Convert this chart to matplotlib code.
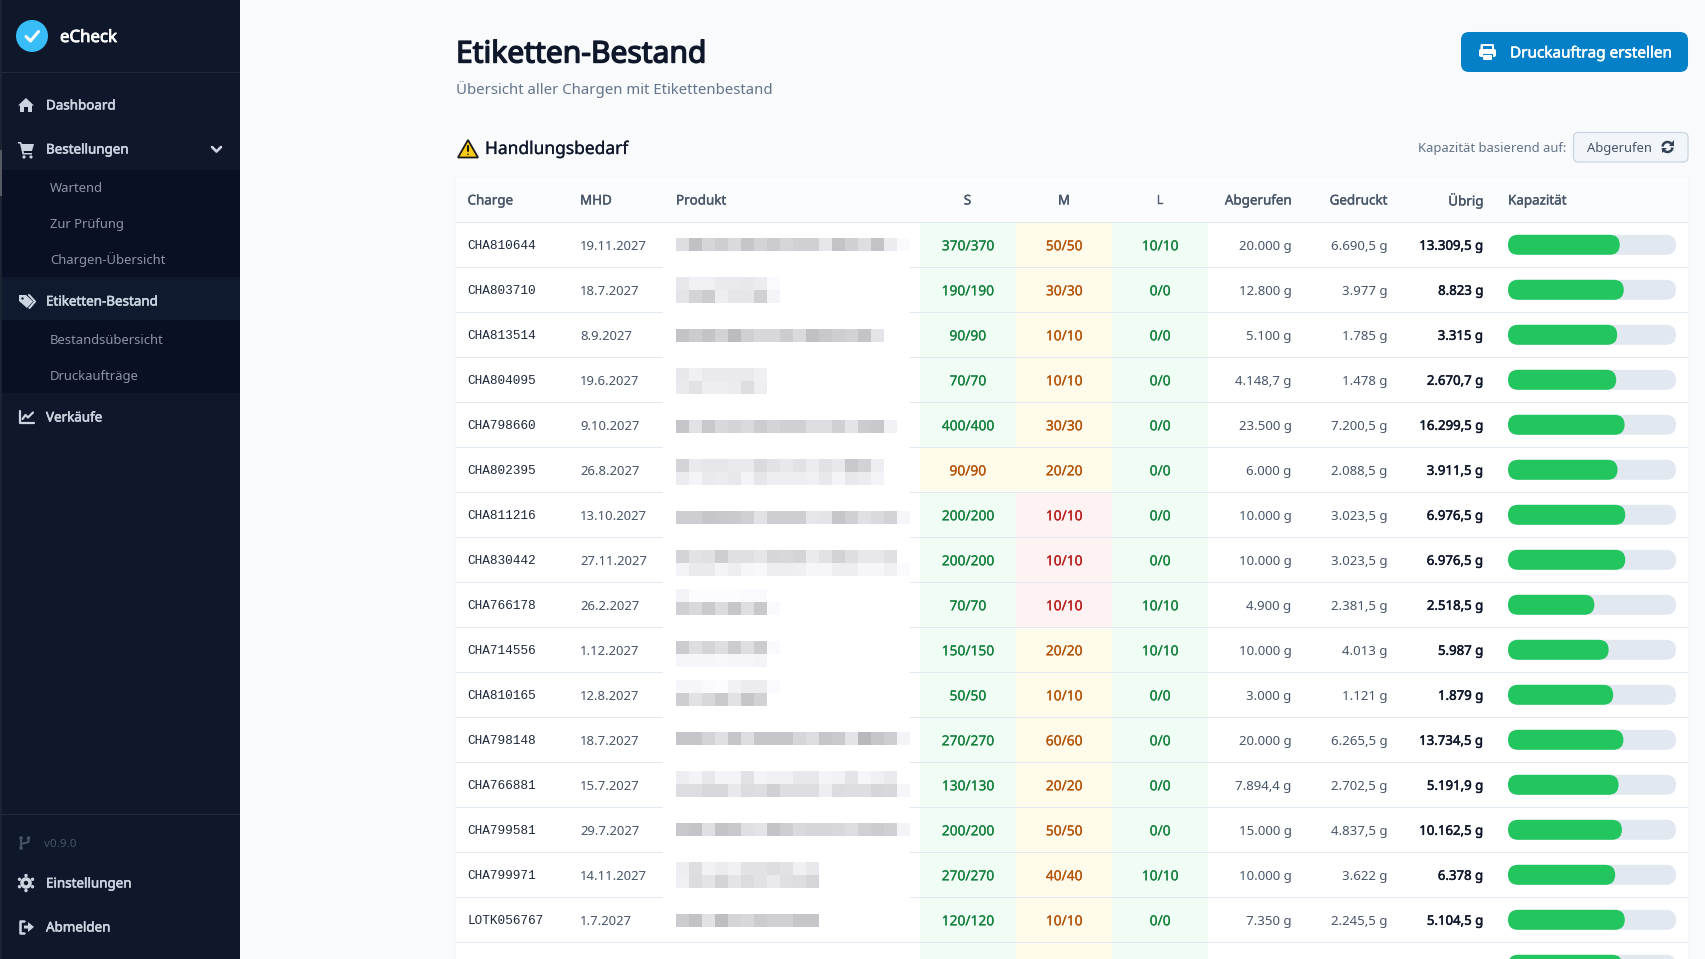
import matplotlib
matplotlib.use("Agg")
import matplotlib.pyplot as plt
import matplotlib.patheffects as pe
from matplotlib.patches import FancyBboxPatch, Rectangle, Polygon, Circle, Arc

# ===== data =====
charge = ["CHA810644", "CHA803710", "CHA813514", "CHA804095", "CHA798660", "CHA802395", "CHA811216", "CHA830442",
          "CHA766178", "CHA714556", "CHA810165", "CHA798148", "CHA766881", "CHA799581", "CHA799971", "LOTK056767"]
mhd = ["19.11.2027", "18.7.2027", "8.9.2027", "19.6.2027", "9.10.2027", "26.8.2027", "13.10.2027", "27.11.2027",
       "26.2.2027", "1.12.2027", "12.8.2027", "18.7.2027", "15.7.2027", "29.7.2027", "14.11.2027", "1.7.2027"]
size_s = ["370/370", "190/190", "90/90", "70/70", "400/400", "90/90", "200/200", "200/200",
          "70/70", "150/150", "50/50", "270/270", "130/130", "200/200", "270/270", "120/120"]
size_m = ["50/50", "30/30", "10/10", "10/10", "30/30", "20/20", "10/10", "10/10",
          "10/10", "20/20", "10/10", "60/60", "20/20", "50/50", "40/40", "10/10"]
size_l = ["10/10", "0/0", "0/0", "0/0", "0/0", "0/0", "0/0", "0/0",
          "10/10", "10/10", "0/0", "0/0", "0/0", "0/0", "10/10", "0/0"]
status_s = "ggggg" + "ygg" + "gggggggg"
status_m = "yyyyyy" + "rrr" + "yyyyyyy"
status_l = "g" * 16
abgerufen = ["20.000 g", "12.800 g", "5.100 g", "4.148,7 g", "23.500 g", "6.000 g", "10.000 g", "10.000 g",
             "4.900 g", "10.000 g", "3.000 g", "20.000 g", "7.894,4 g", "15.000 g", "10.000 g", "7.350 g"]
gedruckt = ["6.690,5 g", "3.977 g", "1.785 g", "1.478 g", "7.200,5 g", "2.088,5 g", "3.023,5 g", "3.023,5 g",
            "2.381,5 g", "4.013 g", "1.121 g", "6.265,5 g", "2.702,5 g", "4.837,5 g", "3.622 g", "2.245,5 g"]
uebrig = ["13.309,5 g", "8.823 g", "3.315 g", "2.670,7 g", "16.299,5 g", "3.911,5 g", "6.976,5 g", "6.976,5 g",
          "2.518,5 g", "5.987 g", "1.879 g", "13.734,5 g", "5.191,9 g", "10.162,5 g", "6.378 g", "5.104,5 g"]
kapazitaet = [66.5, 68.9, 65.0, 64.4, 69.4, 65.2, 69.8, 69.8, 51.4, 59.9, 62.6, 68.7, 65.8, 67.8, 63.8, 69.5, 68.0]

# pixelated product names, grey level per block
blur_tops = [238, 277, 290, 329, 368, 381, 420, 459, 472, 511, 550, 563, 589, 602, 641, 654, 680, 693, 732, 771, 784, 823, 862, 875, 914]
blur_levels = [
    [222, 193, 214, 206, 218, 198, 212, 204, 214, 208, 208, 230, 195, 208, 222, 195, 236, 250],
    [232, 240, 240, 234, 234, 232, 236, 250],
    [228, 212, 204, 238, 230, 230, 208, 244],
    [196, 204, 196, 210, 188, 208, 216, 216, 204, 218, 192, 200, 206, 210, 196, 228],
    [232, 240, 234, 234, 234, 234, 240],
    [234, 226, 238, 238, 236, 222, 238],
    [198, 226, 200, 216, 212, 218, 204, 212, 208, 208, 222, 222, 208, 228, 204, 200, 242],
    [212, 234, 230, 230, 234, 234, 218, 226, 232, 226, 236, 226, 232, 200, 210, 238],
    [236, 244, 234, 236, 232, 244, 230, 238, 238, 238, 240, 232, 244, 232, 236, 244],
    [206, 206, 198, 200, 202, 208, 226, 206, 206, 206, 230, 228, 198, 208, 224, 218, 210, 246],
    [212, 226, 224, 206, 224, 224, 230, 214, 216, 212, 234, 226, 210, 222, 232, 232, 224],
    [244, 234, 234, 244, 238, 246, 248, 238, 238, 240, 246, 246, 238, 238, 246, 246, 240, 250],
    [244, 252, 252, 252, 252, 250, 250],
    [208, 216, 202, 220, 198, 222, 200, 250],
    [204, 222, 212, 222, 204, 222, 204, 250],
    [246, 246, 246, 248, 246, 246, 244],
    [246, 246, 250, 252, 242, 236, 236, 250],
    [206, 226, 216, 202, 226, 198, 210],
    [198, 198, 212, 224, 198, 222, 198, 198, 198, 214, 222, 198, 202, 228, 184, 198, 206, 244],
    [238, 244, 232, 244, 244, 226, 244, 240, 240, 232, 232, 244, 242, 228, 246, 240, 234],
    [222, 222, 216, 216, 232, 220, 222, 208, 222, 222, 222, 238, 220, 222, 222, 214, 216, 246],
    [200, 196, 224, 196, 200, 224, 228, 196, 206, 218, 214, 214, 216, 222, 208, 204, 208, 244],
    [238, 222, 242, 236, 240, 226, 226, 222, 226, 240, 232],
    [240, 220, 228, 212, 228, 220, 226, 234, 224, 222, 214],
    [204, 194, 226, 190, 212, 216, 204, 208, 208, 198, 198],
]

# ===== colours =====
cell_bg = {"g": "#f0fdf4", "y": "#fffbeb", "r": "#fef2f2"}
cell_fg = {"g": "#15803d", "y": "#b45309", "r": "#b91c1c"}
SIDE = "#0f172a"
SUB = "#0a1023"
LINE = "#e2e8f0"
FONT = "Noto Sans"

plt.rcParams["font.family"] = [FONT, "DejaVu Sans"]

fig = plt.figure(figsize=(17.0501, 9.5901), dpi=100, facecolor="#f8fafc")
ax = fig.add_axes([0, 0, 1, 1])
ax.set_xlim(0, 1705)
ax.set_ylim(959, 0)
ax.axis("off")


def px(size):
    return size * 0.72


def txt(x, y, s, size=14, color="#475569", ha="left", heavy=0, family=None, z=6):
    # only the regular cut gets picked up, so heavier text gets a thin outline of its own colour
    t = ax.text(x, y, s, fontsize=px(size), color=color, ha=ha, va="center_baseline",
                family=family or [FONT, "DejaVu Sans"], zorder=z)
    if heavy:
        t.set_path_effects([pe.withStroke(linewidth=heavy, foreground=color)])


def rect(x0, y0, x1, y1, color, z=1):
    ax.add_patch(Rectangle((x0, y0), x1 - x0, y1 - y0, facecolor=color, edgecolor="none", zorder=z))


def rbox(x0, y0, x1, y1, r, color, edge="none", lw=0, z=2):
    ax.add_patch(FancyBboxPatch((x0, y0), x1 - x0, y1 - y0, boxstyle=f"round,pad=0,rounding_size={r}",
                                facecolor=color, edgecolor=edge, linewidth=lw, zorder=z))


def poly(pts, color, z=5, edge="none", lw=0):
    ax.add_patch(Polygon(pts, closed=True, facecolor=color, edgecolor=edge, linewidth=lw, zorder=z))


def stroke(xs, ys, color, lw=1.6, z=5):
    ax.plot(xs, ys, color=color, linewidth=lw, solid_capstyle="round", solid_joinstyle="round", zorder=z)


# ===== sidebar =====
rect(0, 0, 240, 959, SIDE)
rect(0, 0, 2, 959, "#1c2333", z=2)
rect(0, 150, 2, 196, "#555a63", z=2)
rect(2, 72, 240, 73, "#1e293b", z=2)
rect(2, 814, 240, 815, "#1e293b", z=2)
rect(2, 170, 240, 277, SUB, z=2)
rect(2, 277, 240, 320, "#101a2e", z=2)
rect(2, 320, 240, 393, SUB, z=2)

ax.add_patch(Circle((32, 36), 16, facecolor="#38bdf8", edgecolor="none", zorder=4))
stroke([26, 30.5, 38.5], [36.5, 41, 31.5], "white", lw=2.2)
txt(60, 36, "eCheck", 16.8, "#ffffff", heavy=0.6)

ICON = "#cbd5e1"
nav_main = [("Dashboard", 104.5), ("Bestellungen", 148.5), ("Etiketten-Bestand", 300.5), ("Verkäufe", 416.5),
            ("Einstellungen", 882.5), ("Abmelden", 926.5)]
nav_sub = [("Wartend", 186.5), ("Zur Prüfung", 222.5), ("Chargen-Übersicht", 258.5), ("Bestandsübersicht", 338.5), ("Druckaufträge", 374.5)]
for name, y in nav_main:
    txt(46, y, name, 13.4, ICON, heavy=0.4)
for name, y in nav_sub:
    txt(50, y, name, 13, "#8b95a7")
txt(44, 843, "v0.9.0", 11.6, "#475569")

for y in (149, 301):
    stroke([212, 216.5, 221], [147, 151.5, 147], ICON, lw=1.7)

# home
poly([(26, 98), (34, 105.5), (32, 105.5), (32, 112), (28, 112), (28, 107), (24, 107), (24, 112), (20, 112), (20, 105.5), (18, 105.5)], ICON)
# cart
poly([(18, 142), (21, 142), (22, 144), (34, 144), (32, 151), (23.5, 151), (24, 153), (32, 153), (32, 154.5), (22.5, 154.5), (20, 143.5), (18, 143.5)], ICON)
ax.add_patch(Circle((24, 157), 1.6, facecolor=ICON, zorder=5))
ax.add_patch(Circle((31, 157), 1.6, facecolor=ICON, zorder=5))
# tags
poly([(19, 295), (26, 295), (33, 301.5), (27, 308), (19, 301)], ICON)
stroke([29, 35, 29.5], [295, 301.5, 308], ICON, lw=1.5)
ax.add_patch(Circle((22.5, 298.5), 1.2, facecolor="#101a2e", zorder=6))
# chart
stroke([19.5, 19.5, 33.5], [411, 423, 423], ICON, lw=1.6)
stroke([22.5, 25.5, 28, 33], [419, 415, 417.5, 412.5], ICON, lw=1.6)
# branch
BR = "#475569"
for cx, cy in [(21, 838), (21, 848), (28.5, 838)]:
    ax.add_patch(Circle((cx, cy), 1.8, facecolor=BR, zorder=5))
stroke([21, 21], [838, 848], BR, lw=1.4)
stroke([28.5, 28.5, 21], [838, 842, 844], BR, lw=1.4)
# gear
ax.add_patch(Circle((26, 883), 5.8, facecolor=ICON, zorder=5))
ax.add_patch(Circle((26, 883), 2.2, facecolor=SIDE, zorder=6))
for a, b in [(0, 7.5), (0, -7.5), (6.5, 3.7), (-6.5, 3.7), (6.5, -3.7), (-6.5, -3.7)]:
    ax.add_patch(Circle((26 + a, 883 + b), 1.7, facecolor=ICON, zorder=5))
# logout
stroke([23.5, 20, 20, 23.5], [921, 921, 933, 933], ICON, lw=1.8)
poly([(24, 925.5), (28, 925.5), (28, 922), (34, 927), (28, 932), (28, 928.5), (24, 928.5)], ICON)

# ===== page header =====
txt(456, 51, "Etiketten-Bestand", 30, "#0f172a", heavy=1.0)
txt(456, 87.5, "Übersicht aller Chargen mit Etikettenbestand", 14.95, "#64748b")

rbox(1461, 32, 1688, 72, 8, "#0380c8")
txt(1510, 52, "Druckauftrag erstellen", 15.3, "#ffffff", heavy=0.35)
# printer
rbox(1480.5, 44, 1494, 50, 1.5, "white", z=5)
rect(1483, 46, 1491.5, 49, "#0380c8", z=6)
rbox(1479, 49, 1496, 57, 2, "white", z=5)
rect(1482.5, 54, 1492.5, 60, "#0380c8", z=6)
rbox(1483, 55, 1492, 60, 1, "white", z=7)

poly([(468, 140), (478, 157.5), (458, 157.5)], "#facc15", edge="#1a1a1a", lw=1.3)
stroke([468, 468], [146.5, 151.5], "#1a1a1a", lw=1.5)
ax.add_patch(Circle((468, 154.3), 0.8, facecolor="#1a1a1a", zorder=6))
txt(485, 147, "Handlungsbedarf", 17.4, "#0f172a", heavy=0.2)

txt(1566, 147, "Kapazität basierend auf:", 13, "#64748b", ha="right")
rbox(1573.5, 132.5, 1688, 162, 5, "#f1f5f9", edge="#cbd5e1", lw=0.9)
txt(1587, 147, "Abgerufen", 13, "#475569")
ax.add_patch(Arc((1667.5, 147), 10, 10, theta1=185, theta2=345, color="#334155", linewidth=1.8, zorder=6))
ax.add_patch(Arc((1667.5, 147), 10, 10, theta1=5, theta2=165, color="#334155", linewidth=1.8, zorder=6))
poly([(1673.5, 140.5), (1673.5, 146), (1668.5, 146)], "#334155", z=6)
poly([(1661.5, 153.5), (1661.5, 148), (1666.5, 148)], "#334155", z=6)

# ===== table =====
TOP, ROW_H = 222.3, 45.0
rect(455, 177, 1690, 959, "#f5f7fa", z=1)
rect(456, 178, 1688, 222, "#fbfcfd", z=2)
rect(456, 222, 1688, 959, "white", z=2)
rect(456, 221.7, 1688, 222.9, LINE, z=4)

headers_l = [("Charge", 467.5), ("MHD", 580), ("Produkt", 676), ("Kapazität", 1508)]
headers_c = [("S", 967.5), ("M", 1064), ("L", 1160)]
headers_r = [("Abgerufen", 1291.5), ("Gedruckt", 1387.5), ("Übrig", 1483.5)]
HEAD = "#475569"
for s, x in headers_l:
    txt(x, 199.5, s, 13.4, HEAD, heavy=0.25)
for s, x in headers_c:
    txt(x, 199.5, s, 13.4, HEAD, ha="center", heavy=0.25)
for s, x in headers_r:
    txt(x, 199.5, s, 13.4, HEAD, ha="right", heavy=0.25)

col_edges = [919.5, 1016, 1112, 1208]
statuses = [status_s, status_m, status_l]
cols = [size_s, size_m, size_l]

for i in range(17):
    top = TOP + ROW_H * i
    cy = top + ROW_H / 2
    for c in range(3):
        st = statuses[c][i] if i < 16 else ("y" if c == 1 else "g")
        rect(col_edges[c], top, col_edges[c + 1], top + ROW_H, cell_bg[st], z=3)
    if i < 16:
        line_y = top + ROW_H
        # row line, interrupted where the product names were pixelated
        if i < 15:
            rect(456, line_y - 0.5, 663, line_y + 0.5, LINE, z=4)
            rect(910, line_y - 0.5, 1688, line_y + 0.5, LINE, z=4)
        else:
            rect(456, line_y - 0.5, 1688, line_y + 0.5, LINE, z=4)
        txt(467.5, cy - 0.5, charge[i], 12.8, "#1e293b", family="Liberation Mono")
        txt(580, cy, mhd[i], 13.1, "#475569")
        for c in range(3):
            xc = (col_edges[c] + col_edges[c + 1]) / 2
            txt(xc, cy, cols[c][i], 13.8, cell_fg[statuses[c][i]], ha="center", heavy=0.15)
        txt(1291.5, cy, abgerufen[i], 13.2, "#475569", ha="right")
        txt(1387.5, cy, gedruckt[i], 13.2, "#475569", ha="right")
        txt(1483.5, cy, uebrig[i], 13.2, "#0f172a", ha="right", heavy=0.35)
    # capacity bar
    y0 = cy - 10
    rbox(1508, y0, 1676, y0 + 20, 10, "#e2e8f0", z=3)
    rbox(1508, y0, 1508 + 168 * kapazitaet[i] / 100, y0 + 20, 10, "#22c55e", z=4)

for y, levels in zip(blur_tops, blur_levels):
    for k, g in enumerate(levels):
        col = (g / 255, g / 255, min(g + 4, 255) / 255)
        rect(676 + 13 * k, y, 676 + 13 * (k + 1), y + 13, col, z=5)

fig.savefig("out.png", dpi=100, facecolor=fig.get_facecolor())
